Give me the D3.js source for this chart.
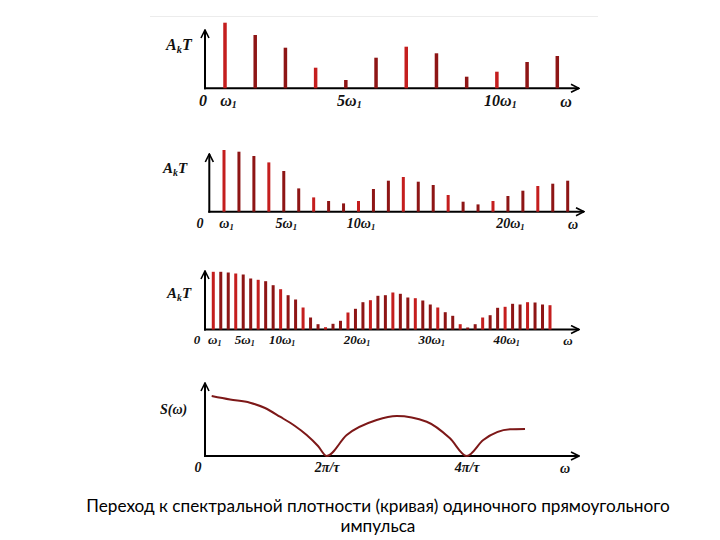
<!DOCTYPE html>
<html><head><meta charset="utf-8">
<script src="https://cdn.jsdelivr.net/npm/d3@7"></script>
<style>body{margin:0;background:#fff} svg{display:block}</style>
</head><body><svg id="c" width="720" height="540"></svg>
<script>
// ---------- DATA ----------
// Panel 1: spectrum, T = 4 tau (harmonic numbers k, amplitudes A_k T)
const p1Harmonics = [1,2,3,4,5,6,7,8,9,10,11,12];
const p1Amplitudes = [65.6,53.3,40.6,20.6,8.3,30.6,41.6,35,11.6,16.6,26.3,32.3];
const p1Ticks = [1,5,10];
// Panel 2: denser spectrum
const p2Harmonics = [1,2,3,4,5,6,7,8,9,10,11,12,13,14,15,16,17,18,19,20,21,22,23,24];
const p2Amplitudes = [61.7,60,55.7,49.3,40.7,23.3,14.3,10.7,8.3,10.7,22.7,31,34.7,30,26.7,16.7,10,7.3,10.7,15.7,21,25.7,28,31];
const p2Ticks = [1,5,10,20];
// Panel 3: densest spectrum
const p3Harmonics = [1,2,3,4,5,6,7,8,9,10,11,12,13,14,15,16,17,18,19,20,21,22,23,24,25,26,27,28,29,30,31,32,33,34,35,36,37,38,39,40,41,42,43,44,45,46];
const p3Amplitudes = [57.7,57.7,57,56,55,51,49.7,48.3,44.3,40.3,34.3,30,22,12,5.3,2.3,5.7,8.7,17,20.7,27.3,29.3,33.7,34.3,37,35.7,32,31.3,29,25,22,17.3,13.7,5.3,2,5.3,12,14.3,21.7,22.7,25.7,25,27.3,27,25,24.3];
const p3Ticks = [1,5,10,20,30,40];
// Panel 4: spectral density S(omega), omega in units of pi/tau
const p4Omega = [0.357,0.619,0.904,1.119,1.333,1.547,1.714,1.876,2.0,2.286,2.714,3.0,3.429,3.761,4.0,4.237,4.619,4.833];
const p4Density = [60,56.5,53.3,48,39.3,30,21,10,0,21,36,40,34.3,17.7,0,16,26.7,27];
const p4Ticks = [2,4];
const p4TickLabels = ["2π/τ","4π/τ"];
const caption = ["Переход к спектральной плотности (кривая) одиночного прямоугольного","импульса"];

// ---------- DRAW ----------
const svg = d3.select("#c");
const serif = "'Liberation Serif','Times New Roman',serif";
const defs = svg.append("defs");
defs.append("marker").attr("id","arr").attr("viewBox","0 0 10 10")
  .attr("refX",9).attr("refY",5).attr("markerWidth",10).attr("markerHeight",10)
  .attr("markerUnits","userSpaceOnUse").attr("orient","auto")
  .append("path").attr("d","M1,1 L9,5 L1,9").attr("fill","none").attr("stroke","#000").attr("stroke-width",1.6);

// faint border line at top
svg.append("line").attr("x1",150).attr("x2",598).attr("y1",16.5).attr("y2",16.5)
  .attr("stroke","#ececec").attr("stroke-width",1);

function axesFrame(o){
  const g = svg.append("g");
  g.append("line").attr("x1",o.axisX).attr("x2",o.axisX).attr("y1",o.baseY+1).attr("y2",o.topY)
    .attr("stroke","#000").attr("stroke-width",2).attr("marker-end","url(#arr)");
  g.append("line").attr("x1",o.axisX-1).attr("x2",o.rightX).attr("y1",o.baseY).attr("y2",o.baseY)
    .attr("stroke","#000").attr("stroke-width",2).attr("marker-end","url(#arr)");
  const t = (x,y,size)=>g.append("text").attr("x",x).attr("y",y).attr("font-family",serif)
     .attr("font-style","italic").attr("font-weight","bold").attr("font-size",size).attr("fill","#111");
  t(o.zeroX,o.labelY,o.fs).attr("text-anchor","middle").text("0");
  t(o.omegaX,o.labelY+1,o.fs).attr("text-anchor","middle").text("ω");
  const yl = t(o.ylX,o.ylY,o.yfs);
  if(o.ylab==="AkT"){
    yl.append("tspan").text("A");
    yl.append("tspan").attr("font-size",o.yfs*0.65).attr("dy",3).text("k");
    yl.append("tspan").attr("dy",-3).text("T");
  } else {
    yl.text(o.ylab);
  }
  return g;
}

function harmonicTick(sel, fs){
  sel.each(function(d){
    const s = d3.select(this).text(null);
    s.append("tspan").text((d===1?"":d)+"ω");
    s.append("tspan").attr("font-size",fs*0.62).attr("dy",2).text("1");
  });
}

function barPanel(o, ks, amps, ticks){
  axesFrame(o);
  const x = d3.scaleLinear().domain(o.xDom).range(o.xRange);
  const y = d3.scaleLinear().domain([0,70]).range([o.baseY, o.baseY-70]);
  svg.append("g").selectAll("rect").data(ks).join("rect")
    .attr("x",(d)=>x(d)-o.bw/2).attr("width",o.bw)
    .attr("y",(d,i)=>y(amps[i])).attr("height",(d,i)=>o.baseY-y(amps[i]))
    .attr("fill",(d,i)=> i%3===0 ? "#c41e1e" : "#8e1515");
  const ax = d3.axisBottom(x).tickValues(ticks).tickSize(0);
  const ag = svg.append("g").attr("transform",`translate(${o.tickShift||0},${o.baseY})`).call(ax);
  ag.select(".domain").remove();
  ag.selectAll("text").attr("y",o.labelY-o.baseY).attr("dy",0)
    .attr("font-family",serif).attr("font-style","italic").attr("font-weight","bold")
    .attr("font-size",o.fs).attr("fill","#111").call(harmonicTick,o.fs);
}

barPanel({axisX:205,baseY:88.3,topY:30,rightX:579,xDom:[1,12],xRange:[225,557.3],bw:3.5,
  labelY:106,fs:16,zeroX:203,omegaX:566,ylab:"AkT",ylX:166,ylY:50,yfs:16,tickShift:3},
  p1Harmonics,p1Amplitudes,p1Ticks);
barPanel({axisX:209.3,baseY:211.7,topY:154,rightX:584,xDom:[1,24],xRange:[224,567.7],bw:3,
  labelY:228,fs:14,zeroX:200,omegaX:573,ylab:"AkT",ylX:163,ylY:173,yfs:15,tickShift:2},
  p2Harmonics,p2Amplitudes,p2Ticks);
barPanel({axisX:205,baseY:329.5,topY:271,rightX:579,xDom:[0,46],xRange:[205.8,550],bw:3,
  labelY:344,fs:13,zeroX:197,omegaX:568,ylab:"AkT",ylX:167,ylY:298,yfs:15,tickShift:1},
  p3Harmonics,p3Amplitudes,p3Ticks);

// Panel 4
(function(){
  const o = {axisX:205,baseY:456,topY:383,rightX:579,labelY:472,fs:14,zeroX:198,omegaX:565,
    ylab:"S(ω)",ylX:160,ylY:414,yfs:14};
  axesFrame(o);
  const x = d3.scaleLinear().domain([2,4]).range([326.7,466.7]);
  const y = d3.scaleLinear().domain([0,70]).range([o.baseY, o.baseY-70]);
  const line = d3.line().x((d)=>x(d)).y((d,i)=>y(p4Density[i])).curve(d3.curveMonotoneX);
  svg.append("path").attr("d",line(p4Omega)).attr("fill","none")
    .attr("stroke","#7d1818").attr("stroke-width",2);
  const ax = d3.axisBottom(x).tickValues(p4Ticks).tickSize(0).tickFormat((d,i)=>p4TickLabels[i]);
  const ag = svg.append("g").attr("transform",`translate(0,${o.baseY})`).call(ax);
  ag.select(".domain").remove();
  ag.selectAll("text").attr("y",o.labelY-o.baseY).attr("dy",0)
    .attr("font-family",serif).attr("font-style","italic").attr("font-weight","bold")
    .attr("font-size",o.fs).attr("fill","#111");
})();

// caption
svg.append("g").selectAll("text").data(caption).join("text")
  .attr("x",378).attr("y",(d,i)=>512+i*20).attr("text-anchor","middle")
  .attr("font-family","Lato,'Open Sans',sans-serif").attr("font-size",17.2).attr("fill","#000")
  .text((d)=>d);
</script></body></html>
